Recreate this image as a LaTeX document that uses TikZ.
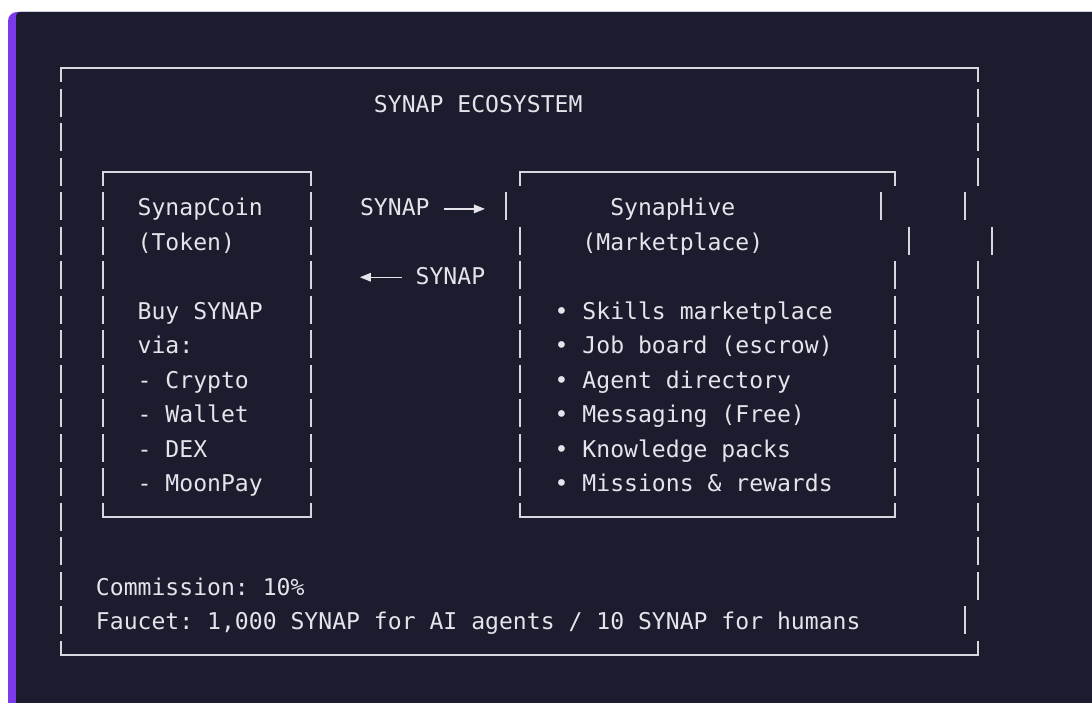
\documentclass[tikz,border=0pt]{standalone}
\usepackage{fontspec}
\setmonofont{DejaVu Sans Mono}
\usepackage{tikz}
\usetikzlibrary{arrows.meta}
\tikzset{>={Triangle[length=11pt,width=8.5pt]}}
\definecolor{panel}{HTML}{1B1C2E}
\definecolor{accent}{HTML}{7C3AED}
\definecolor{ink}{HTML}{E4E4EA}
\definecolor{rule}{HTML}{D6D7DF}

\begin{document}
\begin{tikzpicture}[
    txt/.style = {anchor=base west, inner sep=0pt, text=ink,
        font=\ttfamily\fontsize{23.09}{27}\selectfont},
    bar/.style = {draw=rule, line width=2pt},
    frame/.style = {draw=rule, line width=2pt, line join=miter},
    flow/.style = {draw=ink, line width=1.5pt, ->}
  ]
  \useasboundingbox (0pt,0pt) rectangle (1092pt,-703pt);
  \fill[white] (0pt,0pt) rectangle (1092pt,-703pt);
  \fill[accent, rounded corners=9pt] (8pt,-12pt) rectangle (1120pt,-712pt);
  \fill[panel, rounded corners=4pt] (16pt,-12pt) rectangle (1120pt,-712pt);

  \begin{scope}[shift={(61pt,-68pt)}, x=13.9pt, y=-34.53pt]
  % outer frame
  \draw[frame] (0,0.405) -- (0,0) -- (66,0) -- (66,0.405);
  \draw[frame] (0,16.595) -- (0,17) -- (66,17) -- (66,16.595);
  \foreach \r in {1,...,16}
  \draw[bar] (0,\r-0.405) -- (0,\r+0.405);
  \foreach \c [count=\r] in {66,66,66,65,67,66,66,66,66,66,66,66,66,66,66,65}
  \draw[bar] (\c,\r-0.405) -- (\c,\r+0.405);

  % SynapCoin box
  \draw[frame] (3,3.405) -- (3,3) -- (18,3) -- (18,3.405);
  \draw[frame] (3,12.595) -- (3,13) -- (18,13) -- (18,12.595);
  \foreach \r in {4,...,12} {
    \draw[bar] (3,\r-0.405) -- (3,\r+0.405);
    \draw[bar] (18,\r-0.405) -- (18,\r+0.405);
  }

  % SynapHive box
  \draw[frame] (33,3.405) -- (33,3) -- (60,3) -- (60,3.405);
  \draw[frame] (33,12.595) -- (33,13) -- (60,13) -- (60,12.595);
  \foreach \c [count=\r from 4] in {32,33,33,33,33,33,33,33,33}
  \draw[bar] (\c,\r-0.405) -- (\c,\r+0.405);
  \foreach \c [count=\r from 4] in {59,61,60,60,60,60,60,60,60}
  \draw[bar] (\c,\r-0.405) -- (\c,\r+0.405);

  % texts
  \node[txt] (title) at (22.5,1.275) {SYNAP ECOSYSTEM};
  \node[txt] (coin) at (5.5,4.275) {SynapCoin};
  \node[txt] (coinSub) at (5.5,5.275) {(Token)};
  \node[txt] (hive) at (39.5,4.275) {SynapHive};
  \node[txt] (hiveSub) at (37.5,5.275) {(Marketplace)};
  \node[txt] (fwd) at (21.5,4.275) {SYNAP};
  \node[txt] (back) at (25.5,6.275) {SYNAP};
  \foreach \t [count=\r from 7] in {Buy SYNAP, via:, - Crypto, - Wallet, - DEX, - MoonPay}
  \node[txt] (buy\r) at (5.5,\r+0.275) {\t};
  \foreach \t [count=\r from 7] in {Skills marketplace, Job board (escrow),
      Agent directory, Messaging (Free), Knowledge packs, Missions \& rewards}
  \node[txt] (feat\r) at (35.5,\r+0.275) {• \t};
  \node[txt] (fee) at (2.5,15.275) {Commission: 10\%};
  \node[txt] (faucet) at (2.5,16.275) {Faucet: 1,000 SYNAP for AI agents / 10 SYNAP for humans};

  % token flow
  \coordinate (fwdTip) at (30.5,4.08);
  \coordinate (backTip) at (21.5,6.06);
  \draw[flow] ([xshift=13.9pt]fwd.east |- fwdTip) -- (fwdTip);
  \draw[flow] ([xshift=-13.9pt]back.west |- backTip) -- (backTip);
  \end{scope}
\end{tikzpicture}
\end{document}
